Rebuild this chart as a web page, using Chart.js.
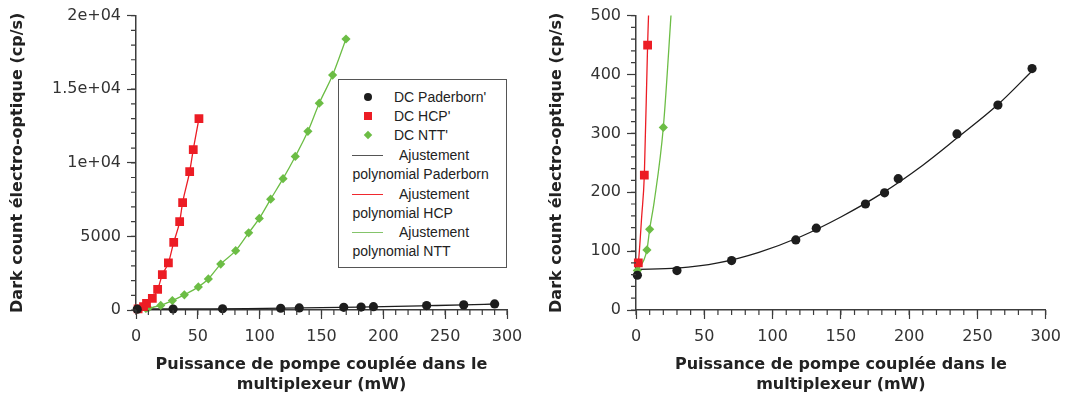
<!DOCTYPE html>
<html>
<head>
<meta charset="utf-8">
<script src="https://cdn.jsdelivr.net/npm/chart.js@4.4.1/dist/chart.umd.min.js"></script>
<style>
  body { margin: 0; background: #fff; }
  #wrap { position: relative; width: 1069px; height: 401px; overflow: hidden; }
  canvas { position: absolute; top: 0; }
  #c1 { left: 0; }
  #c2 { left: 539px; }
  #legend {
    position: absolute; left: 338px; top: 79px; width: 169px; height: 189px;
    box-sizing: border-box; border: 1px solid #555; background: #fff;
    font: 14px "Liberation Sans", Arial, sans-serif; color: #222; z-index: 2;
  }
  #legend .t { position: absolute; white-space: nowrap; line-height: 16px; }
  #legend .mk { position: absolute; }
  #legend .ln { position: absolute; left: 13px; width: 31px; height: 0; border-top: 1.3px solid; }
</style>
</head>
<body>
<div id="wrap">
  <canvas id="c1" width="539" height="401"></canvas>
  <canvas id="c2" width="530" height="401"></canvas>
  <div id="legend"></div>
</div>
<script>
// measured points (mW, cp/s)
const paderbornX = [1, 30, 70, 117, 132, 168, 182, 192, 235, 265, 290];
const paderbornY = [59, 67, 84, 119, 139, 180, 199, 223, 299, 348, 410];
const hcpX = [1.7, 6.1, 8.5, 13.2, 17.5, 21.3, 26.2, 30.5, 35.3, 37.7, 43.4, 46.3, 50.9];
const hcpY = [80, 229, 450, 790, 1400, 2400, 3200, 4600, 6000, 7300, 9400, 10900, 13000];
const nttX = [1, 8, 10, 20, 29.4, 39.1, 50.4, 58.5, 68.5, 80.6, 91.1, 99.7, 108.9, 118.9, 128.8, 139, 148.2, 159, 169.8];
const nttY = [67, 102, 137, 310, 640, 1030, 1570, 2110, 3120, 4030, 5240, 6220, 7530, 8920, 10430, 12140, 14050, 15960, 18410];

// polynomial fits
const paderbornFitX = [0, 30, 60, 90, 120, 150, 180, 210, 235, 265, 290];
const paderbornFitY = [69, 71, 80, 98, 124, 158, 198, 246, 292, 349, 406];
const hcpFitX = [0, 1.7, 4.2, 6.1, 8.5, 13.2, 17.5, 21.3, 26.2, 30.5, 35.3, 37.7, 43.4, 46.3, 50.9];
const hcpFitY = [65, 80, 160, 229, 450, 790, 1400, 2400, 3200, 4600, 6000, 7300, 9400, 10900, 13000];
const nttFitX = [0, 1, 8, 10, 13.4, 20, 25.6, 29.4, 39.1, 50.4, 58.5, 68.5, 80.6, 91.1, 99.7, 108.9, 118.9, 128.8, 139, 148.2, 159, 169.8];
const nttFitY = [63, 67, 102, 137, 185, 310, 500, 640, 1030, 1570, 2110, 3120, 4030, 5240, 6220, 7530, 8920, 10430, 12140, 14050, 15960, 18410];

const seriesLabels = ["DC Paderborn'", "DC HCP'", "DC NTT'"];
const fitLabels = ["Ajustement polynomial Paderborn", "Ajustement polynomial HCP", "Ajustement polynomial NTT"];
const xTicksLeft = [0, 50, 100, 150, 200, 250, 300];
const yTicksLeft = ["0", "5000", "1e+04", "1.5e+04", "2e+04"];

const xTitle = ["Puissance de pompe couplée dans le", "multiplexeur (mW)"];
const yTitle = "Dark count électro-optique (cp/s)";

const black = "#1d1d1d";
const red = "#ec1c24";
const green = "#6cbd45";
const axisColor = "#3c3c3c";

const toPoints = (xs, ys) => xs.map((x, i) => ({ x, y: ys[i] }));

const makeDatasets = () => [
  { label: seriesLabels[0], data: toPoints(paderbornX, paderbornY), showLine: false, pointStyle: "circle",
    pointRadius: 4.6, backgroundColor: black, borderWidth: 0, clip: 10 },
  { label: seriesLabels[1], data: toPoints(hcpX, hcpY), showLine: false, pointStyle: "rect",
    pointRadius: 6.2, backgroundColor: red, borderWidth: 0, clip: 10 },
  { label: seriesLabels[2], data: toPoints(nttX, nttY), showLine: false, pointStyle: "rectRot",
    pointRadius: 4.6, backgroundColor: green, borderWidth: 0, clip: 10 },
  { label: fitLabels[0], data: toPoints(paderbornFitX, paderbornFitY), showLine: true, pointRadius: 0,
    borderColor: black, borderWidth: 1.3, cubicInterpolationMode: "monotone" },
  { label: fitLabels[1], data: toPoints(hcpFitX, hcpFitY), showLine: true, pointRadius: 0,
    borderColor: red, borderWidth: 1.3, cubicInterpolationMode: "monotone" },
  { label: fitLabels[2], data: toPoints(nttFitX, nttFitY), showLine: true, pointRadius: 0,
    borderColor: green, borderWidth: 1.3, cubicInterpolationMode: "monotone" },
];

// small ticks between the labelled ones
const minorTicks = {
  id: "minorTicks",
  afterDraw(chart, args, opts) {
    const { ctx, scales: { x, y } } = chart;
    ctx.save();
    ctx.strokeStyle = axisColor;
    ctx.lineWidth = 1.2;
    ctx.beginPath();
    for (let v = x.min; v <= x.max + 1e-9; v += opts.x) {
      const px = x.getPixelForValue(v);
      ctx.moveTo(px, x.top);
      ctx.lineTo(px, x.top + 5);
    }
    for (let v = y.min; v <= y.max + 1e-9; v += opts.y) {
      const py = y.getPixelForValue(v);
      ctx.moveTo(y.right - 5, py);
      ctx.lineTo(y.right, py);
    }
    ctx.stroke();
    ctx.restore();
  },
};

const tickFont = { family: "DejaVu Sans", size: 16 };
const titleFont = { family: "DejaVu Sans", size: 16, weight: "bold", lineHeight: 1.25 };

const buildChart = (canvas, { yMax, yStep, yMinor, yWidth, padTop, padRight, yLabel }) =>
  new Chart(canvas, {
    type: "scatter",
    data: { datasets: makeDatasets() },
    options: {
      responsive: false,
      animation: false,
      events: [],
      layout: { padding: { top: padTop, right: padRight, left: 0, bottom: 0 } },
      plugins: {
        legend: { display: false },
        tooltip: { enabled: false },
        minorTicks: { x: 10, y: yMinor },
      },
      scales: {
        x: {
          type: "linear", min: xTicksLeft[0], max: xTicksLeft[xTicksLeft.length - 1],
          afterFit: (s) => { s.height = 91; },
          ticks: { stepSize: 50, font: tickFont, color: "#333", padding: 8, maxRotation: 0 },
          grid: { drawOnChartArea: false, tickLength: 9, tickColor: axisColor, tickWidth: 1.2 },
          border: { color: axisColor, width: 1.5 },
          title: { display: true, text: xTitle, font: titleFont, color: "#222", padding: { top: 0, bottom: 6 } },
        },
        y: {
          type: "linear", min: 0, max: yMax,
          afterFit: (s) => { s.width = yWidth; },
          ticks: { stepSize: yStep, font: tickFont, color: "#333", padding: 6, callback: yLabel },
          grid: { drawOnChartArea: false, tickLength: 9, tickColor: axisColor, tickWidth: 1.2 },
          border: { color: axisColor, width: 1.5 },
          title: { display: true, text: yTitle, font: titleFont, color: "#222", padding: { top: 8, bottom: 0 } },
        },
      },
    },
    plugins: [minorTicks],
  });

buildChart(document.getElementById("c1"), {
  yMax: 20000, yStep: 5000, yMinor: 1000, yWidth: 136, padTop: 10, padRight: 32,
  yLabel: (v) => yTicksLeft[Math.round(v / 5000)],
});

buildChart(document.getElementById("c2"), {
  yMax: 500, yStep: 100, yMinor: 20, yWidth: 97, padTop: 12, padRight: 23,
  yLabel: (v) => String(v),
});

// legend box of the left chart (wrapped labels, so html)
const legend = document.getElementById("legend");
const rows = [
  { kind: "circle", color: black, text: seriesLabels[0], y: 17 },
  { kind: "square", color: red, text: seriesLabels[1], y: 36 },
  { kind: "diamond", color: green, text: seriesLabels[2], y: 55 },
];
rows.forEach((r) => {
  const mk = document.createElement("div");
  mk.className = "mk";
  const s = r.kind === "diamond" ? 6 : 8;
  Object.assign(mk.style, {
    left: 28.7 - s / 2 + "px", top: r.y - s / 2 + "px", width: s + "px", height: s + "px",
    background: r.color, borderRadius: r.kind === "circle" ? "50%" : "0",
    transform: r.kind === "diamond" ? "rotate(45deg)" : "none",
  });
  legend.appendChild(mk);
  const t = document.createElement("div");
  t.className = "t";
  t.textContent = r.text;
  Object.assign(t.style, { left: "55px", top: r.y - 8 + "px" });
  legend.appendChild(t);
});
const fitColors = ["#555", "#f0282e", "#84c46a"];
fitLabels.forEach((label, i) => {
  const y = 75 + i * 38.5;
  const ln = document.createElement("div");
  ln.className = "ln";
  ln.style.top = y + "px";
  ln.style.borderColor = fitColors[i];
  legend.appendChild(ln);
  const words = label.split(" ");
  const t1 = document.createElement("div");
  t1.className = "t";
  t1.textContent = words[0];
  Object.assign(t1.style, { left: "60px", top: y - 8 + "px" });
  legend.appendChild(t1);
  const t2 = document.createElement("div");
  t2.className = "t";
  t2.textContent = words.slice(1).join(" ");
  Object.assign(t2.style, { left: "13.5px", top: y + 11 + "px" });
  legend.appendChild(t2);
});
</script>
</body>
</html>
